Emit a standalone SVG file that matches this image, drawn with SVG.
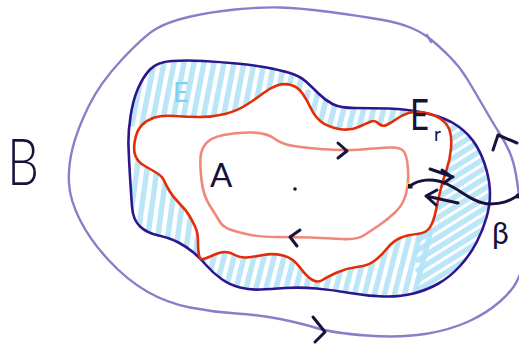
<svg xmlns="http://www.w3.org/2000/svg" width="519" height="345" viewBox="0 0 519 345">
<style>
.ln{fill:none;stroke-linecap:round;stroke-linejoin:round}
.outer{stroke:#8b7ec8;stroke-width:2.4}
.navy{stroke:#2c1690;stroke-width:2.6}
.red{stroke:#e32c08;stroke-width:2.6}
.sal{stroke:#f0887a;stroke-width:2.6}
.ink{stroke:#16123d;stroke-width:3}
.hatch{fill:none;stroke:#b2e3f7;stroke-width:5.5;stroke-linecap:round;stroke-linejoin:round;opacity:0.9}
.t{font-family:Lato,"Liberation Sans",sans-serif;font-weight:400;fill:#16123d}
</style>
<defs>
<clipPath id="band">
<path clip-rule="evenodd" d="M172,61 Q187,60 203.5,61 Q220,62 236.5,63.5 Q253,65 266.5,67.5 Q280,70 290,73 Q300,76 306.5,82 Q313,88 319,94 Q325,100 332.5,104 Q340,108 355,108 Q370,108 388.5,108.5 Q407,109 427,113.5 Q447,118 458.5,126.5 Q470,135 476.5,146 Q483,157 486.5,170 Q490,183 490,194 Q490,205 486.5,217.5 Q483,230 476.5,242.5 Q470,255 460,266 Q450,277 438.5,283.5 Q427,290 413.5,293.5 Q400,297 383.5,296.5 Q367,296 350,293 Q333,290 316.5,288.5 Q300,287 285,288 Q270,289 260,289.5 Q250,290 240,287.5 Q230,285 221.5,279 Q213,273 206.5,265.5 Q200,258 193.5,252.5 Q187,247 178.5,242.5 Q170,238 158.5,235.5 Q147,233 140,226.5 Q133,220 132,206.5 Q131,193 130,176.5 Q129,160 128.5,146.5 Q128,133 130.5,116.5 Q133,100 138,88.5 Q143,77 150,69.5 Q157,62 172,61 Z M135,140 Q137,130 142,125 Q147,120 154.5,117.5 Q162,115 174.5,116 Q187,117 200,117 Q213,117 225,114 Q237,111 247,104.5 Q257,98 263.5,93 Q270,88 277,85.5 Q284,83 291,85 Q298,87 302.5,93.5 Q307,100 311,108.5 Q315,117 321.5,122 Q328,127 339,129 Q350,131 358.5,127 Q367,123 371,121.5 Q375,120 378.5,123.5 Q382,127 386.5,125 Q391,123 396.5,119 Q402,115 408.5,113 Q415,111 424,112.5 Q433,114 440,118.5 Q447,123 449.5,130 Q452,137 451,148.5 Q450,160 446.5,170 Q443,180 440.5,190 Q438,200 436,210 Q434,220 430.5,226.5 Q427,233 417,234 Q407,235 400,238 Q393,241 386.5,249 Q380,257 373.5,261.5 Q367,266 357,267 Q347,268 337,272.5 Q327,277 322.5,280 Q318,283 312.5,280 Q307,277 300,267.5 Q293,258 283,255.5 Q273,253 263,255 Q253,257 246.5,257.5 Q240,258 235,255 Q230,252 225,252 Q220,252 213.5,255 Q207,258 203.5,259 Q200,260 199,255 Q198,250 198,241.5 Q198,233 195.5,227.5 Q193,222 189.5,216 Q186,210 179.5,203.5 Q173,197 169.5,191 Q166,185 164,180.5 Q162,176 156,172.5 Q150,169 144,165.5 Q138,162 135.5,156 Q133,150 135,140 Z"/>
</clipPath>
</defs>

<g id="hatching" clip-path="url(#band)">
<path class="hatch" d="M132,124 l13,-66 m-3,66 l13,-66 m-3,66 l13,-66 m-3,66 l13,-66 m-3,66 l13,-66 m-3,66 l13,-66 m-3,66 l13,-66 m-3,66 l13,-66 m-3,66 l13,-66 m-3,66 l13,-66 m-3,66 l13,-66 m-3,66 l13,-66 m-3,66 l13,-66 m-3,66 l13,-66 m-3,66 l13,-66 m-3,66 l13,-66 m-3,66 l13,-66 m-3,66"/>
<path class="hatch" d="M296,140 l12,-48 m-2,48 l12,-48 m-2,48 l12,-48 m-2,48 l12,-48 m-2,48 l12,-48 m-2,48 l12,-48 m-2,48 l12,-48 m-2,48 l12,-48 m-2,48 l12,-48 m-2,48 l12,-48 m-2,48 l12,-48 m-2,48 l12,-48 m-2,48 l12,-48 m-2,48 l12,-48 m-2,48 l12,-48 m-2,48"/>
<path class="hatch" d="M124,264 l14,-102 m-4,102 l14,-102 m-4,102 l14,-102 m-4,102 l14,-102 m-4,102 l14,-102 m-4,102 l14,-102 m-4,102 l14,-102 m-4,102 l14,-102 m-4,102"/>
<path class="hatch" d="M192,304 l18,-70 m-8,70 l18,-70 m-8,70 l18,-70 m-8,70 l18,-70 m-8,70 l18,-70 m-8,70 l18,-70 m-8,70 l18,-70 m-8,70 l18,-70 m-8,70 l18,-70 m-8,70 l18,-70 m-8,70 l18,-70 m-8,70 l18,-70 m-8,70 l18,-70 m-8,70 l18,-70 m-8,70 l18,-70 m-8,70 l18,-70 m-8,70 l18,-70 m-8,70 l18,-70 m-8,70 l18,-70 m-8,70 l18,-70 m-8,70 l18,-70 m-8,70 l18,-70 m-8,70 l18,-70 m-8,70"/>
<path class="hatch" d="M418,140 l80,-50 m-80,60 l80,-50 m-80,60 l80,-50 m-80,60 l80,-50 m-80,60 l80,-50 m-80,60 l80,-50 m-80,60 l80,-50 m-80,60 l80,-50 m-80,60 l80,-50 m-80,60 l80,-50 m-80,60 l80,-50 m-80,60 l80,-50 m-80,60 l80,-50 m-80,60 l80,-50 m-80,60 l80,-50 m-80,60 l80,-50 m-80,60 l80,-50 m-80,60"/>
</g>

<g id="outer-B">
<path class="ln outer" d="M519,195 L517,181 Q515,167 511.5,157 Q508,147 500.5,135 Q493,123 484,107.5 Q475,92 467.5,79.5 Q460,67 450,57 Q440,47 431.5,40 Q423,33 411.5,28 Q400,23 380,19.5 Q360,16 330,12 Q300,8 280,7.5 Q260,7 235,9.5 Q210,12 188.5,17 Q167,22 155,29.5 Q143,37 121.5,60 Q100,83 88.5,106.5 Q77,130 72.5,148.5 Q68,167 69,183.5 Q70,200 80,220 Q90,240 108.5,260 Q127,280 147,291.5 Q167,303 190,307.5 Q213,312 236.5,313.5 Q260,315 280,319 Q300,323 316.5,328 Q333,333 366.5,335.5 Q400,338 425,334 Q450,330 468.5,321.5 Q487,313 500,301.5 Q513,290 517.5,280 L522,270"/>
<path class="ln outer" d="M427,35 L431,42"/>
</g>

<g id="E">
<path class="ln navy" d="M172,61 Q187,60 203.5,61 Q220,62 236.5,63.5 Q253,65 266.5,67.5 Q280,70 290,73 Q300,76 306.5,82 Q313,88 319,94 Q325,100 332.5,104 Q340,108 355,108 Q370,108 388.5,108.5 Q407,109 427,113.5 Q447,118 458.5,126.5 Q470,135 476.5,146 Q483,157 486.5,170 Q490,183 490,194 Q490,205 486.5,217.5 Q483,230 476.5,242.5 Q470,255 460,266 Q450,277 438.5,283.5 Q427,290 413.5,293.5 Q400,297 383.5,296.5 Q367,296 350,293 Q333,290 316.5,288.5 Q300,287 285,288 Q270,289 260,289.5 Q250,290 240,287.5 Q230,285 221.5,279 Q213,273 206.5,265.5 Q200,258 193.5,252.5 Q187,247 178.5,242.5 Q170,238 158.5,235.5 Q147,233 140,226.5 Q133,220 132,206.5 Q131,193 130,176.5 Q129,160 128.5,146.5 Q128,133 130.5,116.5 Q133,100 138,88.5 Q143,77 150,69.5 Q157,62 172,61 Z"/>
<text class="t" x="173" y="102" font-size="27" style="fill:#7fcff2">E</text>
</g>

<g id="Er">
<path class="ln red" d="M135,140 Q137,130 142,125 Q147,120 154.5,117.5 Q162,115 174.5,116 Q187,117 200,117 Q213,117 225,114 Q237,111 247,104.5 Q257,98 263.5,93 Q270,88 277,85.5 Q284,83 291,85 Q298,87 302.5,93.5 Q307,100 311,108.5 Q315,117 321.5,122 Q328,127 339,129 Q350,131 358.5,127 Q367,123 371,121.5 Q375,120 378.5,123.5 Q382,127 386.5,125 Q391,123 396.5,119 Q402,115 408.5,113 Q415,111 424,112.5 Q433,114 440,118.5 Q447,123 449.5,130 Q452,137 451,148.5 Q450,160 446.5,170 Q443,180 440.5,190 Q438,200 436,210 Q434,220 430.5,226.5 Q427,233 417,234 Q407,235 400,238 Q393,241 386.5,249 Q380,257 373.5,261.5 Q367,266 357,267 Q347,268 337,272.5 Q327,277 322.5,280 Q318,283 312.5,280 Q307,277 300,267.5 Q293,258 283,255.5 Q273,253 263,255 Q253,257 246.5,257.5 Q240,258 235,255 Q230,252 225,252 Q220,252 213.5,255 Q207,258 203.5,259 Q200,260 199,255 Q198,250 198,241.5 Q198,233 195.5,227.5 Q193,222 189.5,216 Q186,210 179.5,203.5 Q173,197 169.5,191 Q166,185 164,180.5 Q162,176 156,172.5 Q150,169 144,165.5 Q138,162 135.5,156 Q133,150 135,140 Z"/>
<text class="t" x="410" y="130" font-size="42" textLength="19" lengthAdjust="spacingAndGlyphs">E</text>
<text class="t" x="434" y="141" font-size="19">r</text>
</g>

<g id="A">
<path class="ln sal" d="M200.5,157.5 Q201,150 205.5,144 Q210,138 223.5,135 Q237,132 252,132.5 Q267,133 273.5,138 Q280,143 288.5,145 Q297,147 320,149 Q343,151 361.5,149.5 Q380,148 390,147.5 Q400,147 403.5,151 Q407,155 408,169 Q409,183 406,194 Q403,205 395,212.5 Q387,220 379.5,225 Q372,230 364.5,235 Q357,240 342,239 Q327,238 310,237.5 Q293,237 276.5,237 Q260,237 248.5,234.5 Q237,232 230,229.5 Q223,227 220,222 Q217,217 210,206 Q203,195 201.5,180 Q200,165 200.5,157.5 Z"/>
<text class="t" x="210" y="187" font-size="33">A</text>
<circle cx="295" cy="189" r="1.8" fill="#16123d"/>
</g>

<g id="labels">
<text class="t" x="7" y="185" font-size="66" textLength="32" lengthAdjust="spacingAndGlyphs" style="font-weight:300">B</text>
<text class="t" x="492" y="244" font-size="30">β</text>
</g>

<g id="connectors">
<path class="ln ink" d="M338,143 L347,151 L338,158"/>
<path class="ln ink" d="M300,230 L290,237 L297,246"/>
<path class="ln ink" d="M313,317 L325,332 L315,342"/>
<path class="ln ink" d="M493,150 L498,135 L517,143"/>
<path class="ln ink" d="M410,186 C418,180 432,177 447,184 S475,204 490,204 S510,200 519,195"/>
<path class="ln ink" d="M430,169 L453,177 M442,170 L452,177 L444,183"/>
<path class="ln ink" d="M426,196 L458,203 M437,190 L426,196 L436,205"/>
<rect x="406.5" y="182.5" width="4" height="4" fill="#f0e000"/>
<rect x="408" y="184" width="4.5" height="4.5" fill="#16123d"/>
<circle cx="518" cy="196" r="2.5" fill="#16123d"/>
</g>
</svg>
